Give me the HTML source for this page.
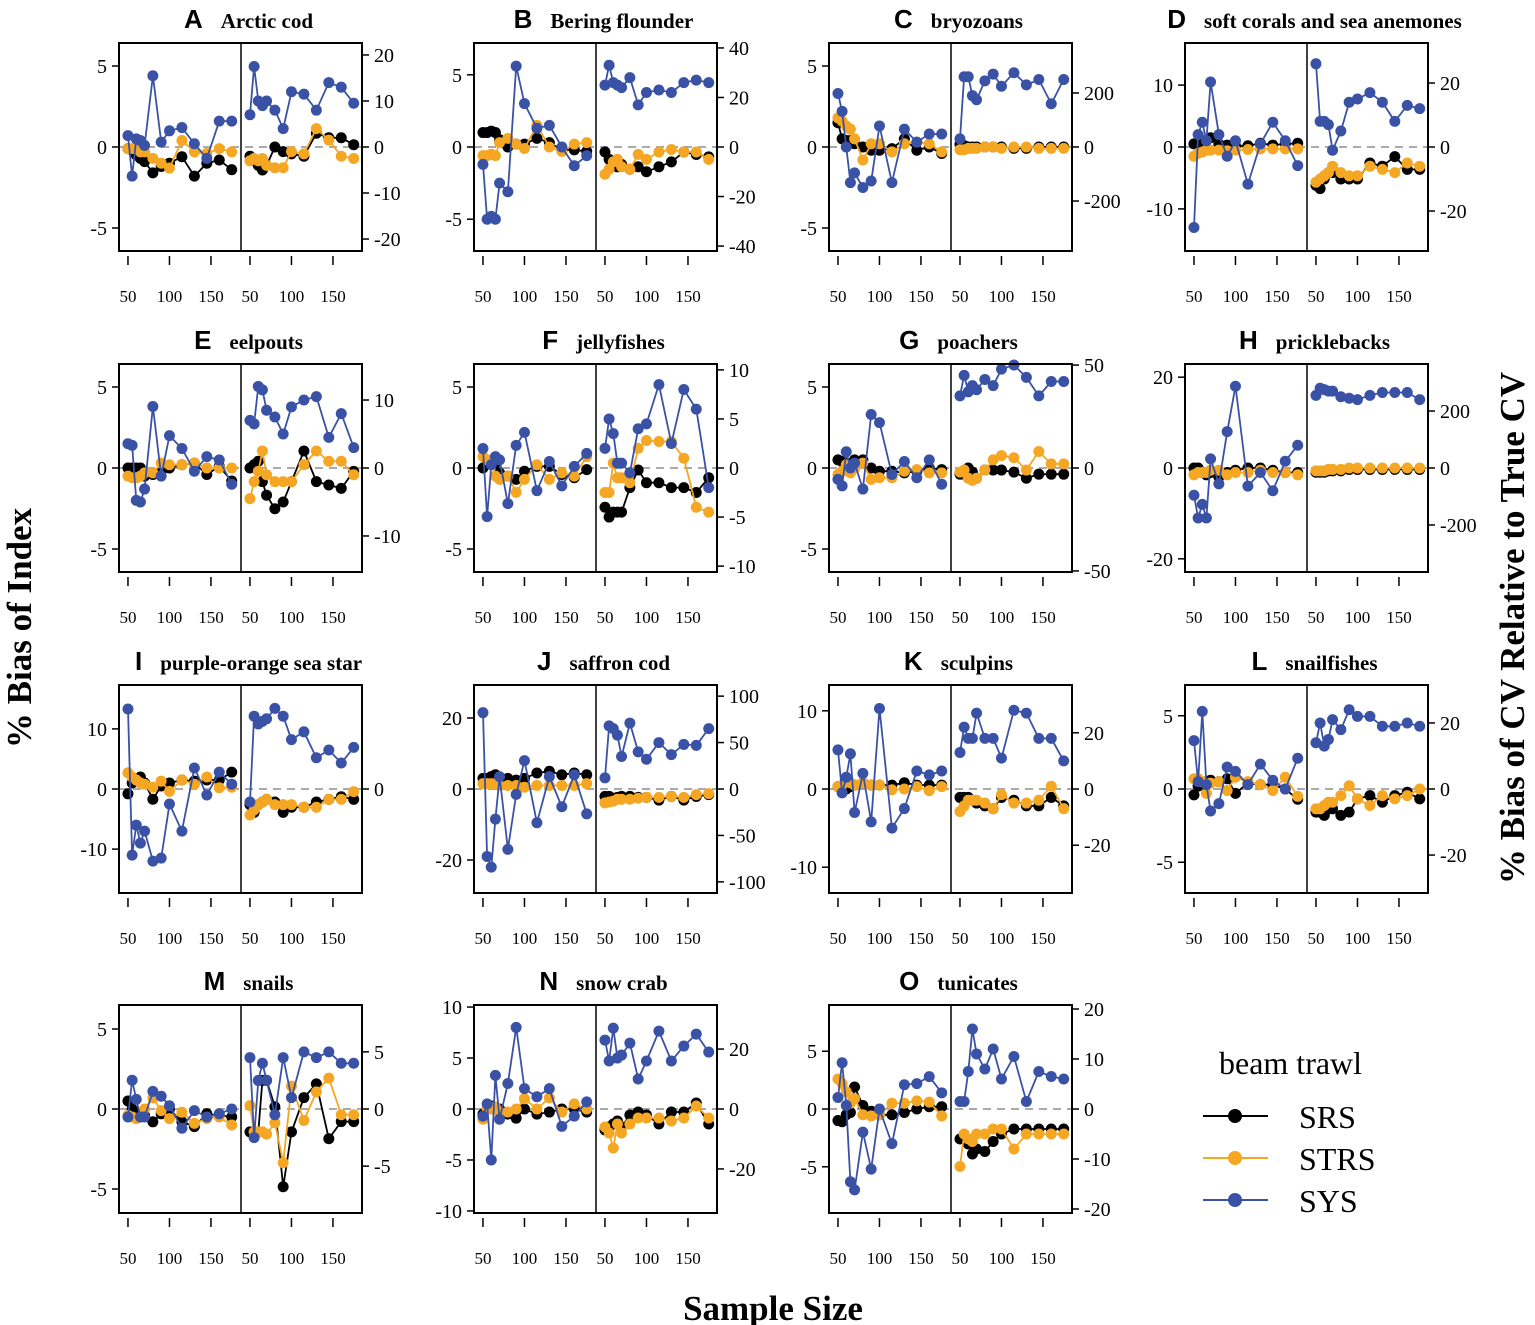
<!DOCTYPE html>
<html><head><meta charset="utf-8">
<style>
html,body{margin:0;padding:0;background:#fff;}
svg{display:block;}
</style></head>
<body>
<svg id="chart" width="1535" height="1325" viewBox="0 0 1535 1325" xmlns="http://www.w3.org/2000/svg" font-family="Liberation Serif, serif">
<text x="31" y="628" font-size="35" font-weight="bold" text-anchor="middle" transform="rotate(-90 31 628)">% Bias of Index</text>
<text x="1524" y="628" font-size="35" font-weight="bold" text-anchor="middle" transform="rotate(-90 1524 628)">% Bias of CV Relative to True CV</text>
<text x="773" y="1320" font-size="35" font-weight="bold" text-anchor="middle">Sample Size</text>
<g>
<text x="1219" y="1074" font-size="32">beam trawl</text>
<g><line x1="1203" y1="1116" x2="1268" y2="1116" stroke="#000" stroke-width="2"/><circle cx="1235" cy="1116" r="7" fill="#000"/><text x="1299" y="1128" font-size="32">SRS</text></g>
<g><line x1="1203" y1="1158" x2="1268" y2="1158" stroke="#F5A623" stroke-width="2"/><circle cx="1235" cy="1158" r="7" fill="#F5A623"/><text x="1299" y="1170" font-size="32">STRS</text></g>
<g><line x1="1203" y1="1200" x2="1268" y2="1200" stroke="#3A52A5" stroke-width="2"/><circle cx="1235" cy="1200" r="7" fill="#3A52A5"/><text x="1299" y="1212" font-size="32">SYS</text></g>
</g>
</svg>
<script>
const sampleSizes = [50,55,60,65,70,80,90,100,115,130,145,160,175];
const xTickLabels = [50,100,150];
const panelLetters = ["A","B","C","D","E","F","G","H","I","J","K","L","M","N","O"];
const panelNames = ["Arctic cod","Bering flounder","bryozoans","soft corals and sea anemones","eelpouts","jellyfishes","poachers","pricklebacks","purple-orange sea star","saffron cod","sculpins","snailfishes","snails","snow crab","tunicates"];
const leftLimits = [6.42,7.2,6.42,16.8,6.42,6.42,6.42,22.9,17.3,29.3,13.3,7.1,6.5,10.2,9];
const rightLimits = [22.6,42,385,32.5,15.3,10.6,50.5,365,20,112,37,31.5,9.1,34.7,20.8];
const leftTicks = [[-5,0,5],[-5,0,5],[-5,0,5],[-10,0,10],[-5,0,5],[-5,0,5],[-5,0,5],[-20,0,20],[-10,0,10],[-20,0,20],[-10,0,10],[-5,0,5],[-5,0,5],[-10,-5,0,5,10],[-5,0,5]];
const rightTicks = [[-20,-10,0,10,20],[-40,-20,0,20,40],[-200,0,200],[-20,0,20],[-10,0,10],[-10,-5,0,5,10],[-50,0,50],[-200,0,200],[0],[-100,-50,0,50,100],[-20,0,20],[-20,0,20],[-5,0,5],[-20,0,20],[-20,-10,0,10,20]];

// A
const A_srsL=[-0.1,-0.2,-0.5,-0.7,-0.9,-1.6,-1.2,-1.0,-0.6,-1.8,-1.0,-0.8,-1.4];
const A_strsL=[-0.1,-0.1,0,-0.3,-0.3,-0.7,-1.0,-1.3,0.4,-0.3,-0.4,-0.1,-0.3];
const A_sysL=[0.7,-1.8,0.5,0.4,0.1,4.4,0.3,1.0,1.2,0.2,-0.7,1.6,1.6];
const A_srsR=[-2,-3,-4,-5,-4,0,-1,-1.5,-2,3,2,2,0.5];
const A_strsR=[-3,-2.5,-3,-2.5,-4,-4.5,-4.5,-1,-1.5,4,1.5,-2,-2.5];
const A_sysR=[7,17.5,10,9,10,8,4,12,11.5,8,14,13,9.5];
// B
const B_srsL=[1,1,1.1,1,0.5,0,0.2,0.2,0.6,0.3,-0.2,-0.2,-0.3];
const B_strsL=[-0.6,-0.6,-0.5,-0.6,0.3,0.6,0.2,-0.1,1.5,0,-0.3,0.2,0.3];
const B_sysL=[-1.2,-5,-4.8,-5,-2.5,-3.1,5.6,3,1.3,1.5,0,-1.3,-0.6];
const B_srsR=[-2,-5,-7,-8,-7,-9,-8,-10,-8,-6,-2,-3,-4];
const B_strsR=[-11,-9,-6,-5,-8,-9,-3,-5,-2,-1,-2,-2,-5];
const B_sysR=[25,33,26,25,24,28,17,22,23,22,26,27,26];
// C
const C_srsL=[1.5,0.5,0.4,0.4,0.2,0,-0.2,-0.2,-0.1,0.5,-0.2,0,-0.4];
const C_strsL=[1.8,1.6,1.3,1.1,0.5,-0.8,0.2,0.2,-0.3,0.2,0.3,0.2,-0.3];
const C_sysL=[3.3,2.2,0,-2.2,-1.6,-2.5,-2.1,1.3,-2.2,1.1,0.3,0.8,0.8];
const C_srsR=[10,5,0,0,0,0,0,0,-5,-5,0,0,0];
const C_strsR=[-10,-10,-5,-5,-5,0,0,-5,0,0,-5,-5,-5];
const C_sysR=[30,260,260,190,175,245,270,225,275,230,250,160,250];
// D
const D_srsL=[0.5,0.7,1,1,1.5,0.5,0.3,0.2,0.2,0.6,0.3,0.5,0.6];
const D_strsL=[-1.5,-1,-0.8,-0.5,-0.5,-0.5,-0.6,-0.5,-0.4,-0.3,-0.3,-0.3,-0.3];
const D_sysL=[-13,2,4,1,10.5,2,-1.5,1,-6,0.5,4,1,-3];
const D_srsR=[-12,-13,-10,-8,-8,-10,-10,-10,-5,-6,-3,-7,-7];
const D_strsR=[-11,-10,-9,-8,-6,-8,-9,-9,-6,-7,-8,-5,-6];
const D_sysR=[26,8,8,7,-1,5,14,15,17,14,8,13,12];
// E
const E_srsL=[0,0,0,0,-0.5,-0.4,-0.2,0,0.2,0.3,-0.4,0.1,-0.8];
const E_strsL=[-0.5,-0.6,-0.6,-0.5,-0.3,-0.3,0.3,0.2,0.2,0.3,0,0,0];
const E_sysL=[1.5,1.4,-2,-2.1,-1.3,3.8,-0.5,2.0,1.2,-0.2,0.7,0.5,-1.0];
const E_srsR=[0,0.5,1,-2,-4,-6,-5,-2,2.5,-2,-2.5,-3,-0.5];
const E_strsR=[-4.5,-2,-0.5,2.5,-1,-2,-2,-2,0.5,2.5,1,1,-1];
const E_sysR=[7,6.5,12,11.5,8.5,7.5,5,9,10,10.5,4.5,8,3];
// F
const F_srsL=[0,0.3,0.4,0.3,-0.3,-0.5,-0.7,-0.2,0.1,0.1,-0.4,-0.6,-0.1];
const F_strsL=[0.7,0.5,0.5,-0.5,-0.7,-0.5,-1.5,-0.7,0.2,-0.7,-0.3,-0.5,0.7];
const F_sysL=[1.2,-3,0.2,0.7,0.5,-2.2,1.4,2.2,-1.4,0.4,-1.1,0.1,0.9];
const F_srsR=[-4,-5,-4.5,-4.5,-4.5,-2,-0.2,-1.5,-1.5,-2,-2,-2.5,-1];
const F_strsR=[-2.5,-2.5,0.5,-1,-1,-1.5,2,2.8,2.7,2.7,1,-4,-4.5];
const F_sysR=[2,5,3.5,0.5,0.5,-0.5,4,4.5,8.5,2.5,8,6,-2];
// G
const G_srsL=[0.5,0.4,0.3,0.2,0.5,0.5,0,-0.2,-0.2,-0.3,-0.2,0,-0.1];
const G_strsL=[-0.4,-0.2,0.2,-0.3,0,0.3,-0.7,-0.6,-0.6,-0.2,-0.1,-0.3,-0.3];
const G_sysL=[-0.7,-1.1,1,0,0.3,-1.3,3.3,2.8,-0.4,0.4,-0.6,0.5,-1];
const G_srsR=[-3,-3,0,-2,-5,-1,-1,-1,-2,-5,-3,-3,-3];
const G_strsR=[-2,-1,-5,-6,-5,-1,4,6,5,-1,8,2,2];
const G_sysR=[35,45,37,40,38,43,40,48,50,44,35,42,42];
// H
const H_srsL=[0,0,-1,-1.5,-1,-2,-1,-0.5,0,0,-0.5,-1,-1];
const H_strsL=[-1.5,-1,-1,-1,-0.5,-0.5,-1.5,-1,-1,-0.5,-1,-1,-1.5];
const H_sysL=[-6,-11,-8,-11,2,-3.5,8,18,-4,-1,-5,1.5,5];
const H_srsR=[-15,-15,-15,-10,-10,-10,-5,-5,-5,-5,-5,-5,-5];
const H_strsR=[-10,-10,-10,-5,-5,-5,0,0,0,0,0,0,0];
const H_sysR=[255,280,275,270,270,250,245,240,255,265,265,265,240];
// I
const I_srsL=[-0.8,1,1.5,2,1,-1.7,0.5,1,1.5,1.3,1.5,1.5,2.8];
const I_strsL=[2.7,2,1.5,1,0.8,0.3,1.3,-0.4,1.5,0.8,2,0.2,0.3];
const I_sysL=[13.3,-11,-6,-9,-7,-12,-11.5,-2.5,-7,3.5,-1,2.8,0.8];
const I_srsR=[-3,-4.5,-3,-2.5,-2,-2.5,-4.5,-3.5,-3.5,-2.5,-2,-1.5,-2];
const I_strsR=[-5,-4,-3,-2.5,-2,-3,-3,-3,-3.5,-3.5,-2,-2,-0.5];
const I_sysR=[-2.5,14,12.5,13,13.5,15.5,14,9.5,11,6,7.5,5,8];
// J
const J_srsL=[3,3,3.5,4,3,3,2.5,3,4.5,5,4,4.5,4];
const J_strsL=[1.5,1.5,1.5,1.5,1,1,1,0.5,1,1,1,1,1.5];
const J_sysL=[21.5,-19,-22,-8.5,3.5,-17,-1.5,8,-9.5,3.5,-5,4,-7];
const J_srsR=[-8,-8,-10,-9,-8,-8,-9,-9,-12,-8,-12,-8,-6];
const J_strsR=[-15,-14,-13,-11,-11,-11,-10,-9,-9,-8,-9,-6,-5];
const J_sysR=[12,68,65,58,35,71,40,32,50,37,48,47,65];
// K
const K_srsL=[0.3,0.2,0,0.3,0.5,0.8,0.5,0.5,0.5,0.8,0.5,0.5,0.5];
const K_strsL=[0.3,0.5,1,0.8,0.5,0.8,0.5,0.5,-0.1,0,0.3,-0.2,0.3];
const K_sysL=[5,-0.5,1.5,4.5,-3,2,-4.2,10.3,-5,-2.5,2.3,1.8,2.3];
const K_srsR=[-3,-3,-3,-4,-5,-6,-7,-3,-4,-6,-6,-3,-6];
const K_strsR=[-8,-6,-4,-4,-4,-5,-7,-2,-5,-5,-4,1,-7];
const K_sysR=[13,22,18,18,27,18,18,11,28,27,18,18,10];
// L
const L_srsL=[-0.4,0.2,0.3,0.5,0.6,0.5,0.7,-0.3,0.4,0.3,0.3,0,-0.7];
const L_strsL=[0.7,0.7,0.5,-0.3,0.4,0.5,-0.1,0.8,0.5,0.3,-0.1,0.8,-0.5];
const L_sysL=[3.3,0.5,5.3,0.3,-1.5,-1,1.5,1.2,0.3,1.7,0.6,0,2.1];
const L_srsR=[-7,-7,-8,-6,-6,-8,-7,-3,-2,-4,-2,-1,-3];
const L_strsR=[-6,-6,-5,-4,-4,-2,1,-3,-5,-2,-3,-2,0];
const L_sysR=[14,20,13,15,21,18,24,22,22,19,19,20,19];
// M
const M_srsL=[0.5,0,-0.3,-0.5,-0.4,-0.8,-0.3,0,-0.8,-1.1,-0.3,-0.4,-0.5];
const M_strsL=[-0.4,-0.5,-0.6,-0.5,0,0.7,-0.1,-0.6,-0.2,-0.9,-0.6,-0.5,-1];
const M_sysL=[-0.5,1.8,0.6,-0.5,-0.5,1.1,0.8,0.2,-1.2,-0.1,-0.5,-0.3,0];
const M_srsR=[-2,-2.3,-2,2.5,2.5,0.2,-6.8,-2,1,2.2,-2.6,-1.1,-1.1];
const M_strsR=[0.3,-2,-2,-2,-2.2,-1.2,-4.7,2,-1,1.5,2.7,-0.5,-0.5];
const M_sysR=[4.5,-2.5,2.5,4,2.5,-0.5,4.5,1,5,4.5,5,4,4];
// N
const N_srsL=[-0.5,0,0.3,0,0,-0.5,-0.9,0,-0.5,-0.3,0,0,-0.3];
const N_strsL=[-1,0,0,0.2,-0.3,-0.3,0,1,0,1.1,-0.3,0.5,0];
const N_sysL=[-0.7,0.5,-5,3.3,-1,2.5,8,2,1.2,2,-1.7,-0.7,0.7];
const N_srsR=[-7,-6,-5,-4,-6,-2,-1,-2,-5,-1,-1,2,-5];
const N_strsR=[-6,-8,-13,-5,-8,-5,-3,-3,-3,-4,-3,1,-3];
const N_sysR=[23,16,27,17,18,22,10,16,26,16,21,25,19];
// O
const O_srsL=[-1,-1.1,-0.5,-0.3,1.9,0.3,-0.2,-0.5,-0.5,-0.3,0,0.2,0.2];
const O_strsL=[2.6,2.2,1.5,0.5,0.9,-0.5,-0.6,-0.5,0.5,0.5,0.7,0.6,-0.6];
const O_sysL=[1,4,0.3,-6.3,-7,-2,-5.2,0,-3,2.1,2.2,2.8,1.4];
const O_srsR=[-6,-6,-7,-9,-8,-8.5,-6.5,-5,-4,-4,-4,-4,-4];
const O_strsR=[-11.5,-5,-6,-6.5,-5,-5,-4,-4,-8,-5,-5,-5,-5];
const O_sysR=[1.5,1.5,7.5,16,11,8,12,6,10.5,1.5,7.5,6.5,6];

const seriesLeft = [
 [A_srsL,A_strsL,A_sysL],[B_srsL,B_strsL,B_sysL],[C_srsL,C_strsL,C_sysL],[D_srsL,D_strsL,D_sysL],
 [E_srsL,E_strsL,E_sysL],[F_srsL,F_strsL,F_sysL],[G_srsL,G_strsL,G_sysL],[H_srsL,H_strsL,H_sysL],
 [I_srsL,I_strsL,I_sysL],[J_srsL,J_strsL,J_sysL],[K_srsL,K_strsL,K_sysL],[L_srsL,L_strsL,L_sysL],
 [M_srsL,M_strsL,M_sysL],[N_srsL,N_strsL,N_sysL],[O_srsL,O_strsL,O_sysL]];
const seriesRight = [
 [A_srsR,A_strsR,A_sysR],[B_srsR,B_strsR,B_sysR],[C_srsR,C_strsR,C_sysR],[D_srsR,D_strsR,D_sysR],
 [E_srsR,E_strsR,E_sysR],[F_srsR,F_strsR,F_sysR],[G_srsR,G_strsR,G_sysR],[H_srsR,H_strsR,H_sysR],
 [I_srsR,I_strsR,I_sysR],[J_srsR,J_strsR,J_sysR],[K_srsR,K_strsR,K_sysR],[L_srsR,L_strsR,L_sysR],
 [M_srsR,M_strsR,M_sysR],[N_srsR,N_strsR,N_sysR],[O_srsR,O_strsR,O_sysR]];
const seriesNames = ["srs","strs","sys"];
const seriesColors = ["#000000","#F5A623","#3A52A5"];

const NS="http://www.w3.org/2000/svg";
const svg=document.getElementById('chart');
function mk(tag,attrs,parent){const e=document.createElementNS(NS,tag);for(const k in attrs)e.setAttribute(k,attrs[k]);parent.appendChild(e);return e;}

const colX=[119,474,829,1185], rowY=[43,364,685,1005], W=243, HW=122, H=208;
const xMin=39.2, xSpan=122/0.83;
function xScale(v,x0){return x0+(v-xMin)/xSpan*HW;}

panelLetters.forEach((letter,i)=>{
  const x0=colX[i%4], y0=rowY[Math.floor(i/4)];
  const g=mk('g',{},svg);
  
  
  const yc=y0+H/2;
  const yL=v=>yc-v/leftLimits[i]*(H/2);
  const yR=v=>yc-v/rightLimits[i]*(H/2);
  const t=mk('text',{x:x0+W/2+8,y:y0-15,'text-anchor':'middle','font-size':21,'font-weight':'bold'},g);
  
  
  const ts1=mk('tspan',{'font-family':'Liberation Sans, sans-serif','font-size':26},t); ts1.textContent=letter;
  const ts2=mk('tspan',{dx:18},t); ts2.textContent=panelNames[i];
  const z=mk('line',{x1:x0,x2:x0+W,y1:yc,y2:yc,stroke:'#aaa','stroke-width':2,'stroke-dasharray':'8,6'},g);
  
  
  [[seriesLeft[i],yL,x0],[seriesRight[i],yR,x0+HW]].forEach(([sers,ys,bx],h)=>{
    sers.forEach((vals,s)=>{
      const sg=mk('g',{},g);
      
      
      const pts=vals.map((v,k)=>xScale(sampleSizes[k],bx).toFixed(1)+','+ys(v).toFixed(1)).join(' ');
      mk('polyline',{points:pts,fill:'none',stroke:seriesColors[s],'stroke-width':1.8},sg);
      vals.forEach((v,k)=>{
        const c=mk('circle',{cx:xScale(sampleSizes[k],bx),cy:ys(v),r:5.5,fill:seriesColors[s]},sg);
        
        
      });
    });
  });
  const box=mk('rect',{x:x0,y:y0,width:W,height:H,fill:'none',stroke:'#000','stroke-width':2},g);
  
  
  const dv=mk('line',{x1:x0+HW,x2:x0+HW,y1:y0,y2:y0+H,stroke:'#000','stroke-width':1.5},g);
  
  
  leftTicks[i].forEach(v=>{
    const y=yL(v);
    mk('line',{x1:x0-7,x2:x0,y1:y,y2:y,stroke:'#000','stroke-width':1.5},g);
    const l=mk('text',{x:x0-12,y:y+7,'text-anchor':'end','font-size':20},g);
    
    
    l.textContent=v;
  });
  rightTicks[i].forEach(v=>{
    const y=yR(v);
    mk('line',{x1:x0+W,x2:x0+W+7,y1:y,y2:y,stroke:'#000','stroke-width':1.5},g);
    const l=mk('text',{x:x0+W+12,y:y+7,'text-anchor':'start','font-size':20},g);
    
    
    l.textContent=v;
  });
  [x0,x0+HW].forEach(bx=>{
    xTickLabels.forEach(v=>{
      const x=xScale(v,bx);
      mk('line',{x1:x,x2:x,y1:y0+H+5,y2:y0+H+14,stroke:'#000','stroke-width':1.5},g);
      const l=mk('text',{x:x,y:y0+H+51,'text-anchor':'middle','font-size':17},g);
      
      
      l.textContent=v;
    });
  });
});
</script>
</body></html>
